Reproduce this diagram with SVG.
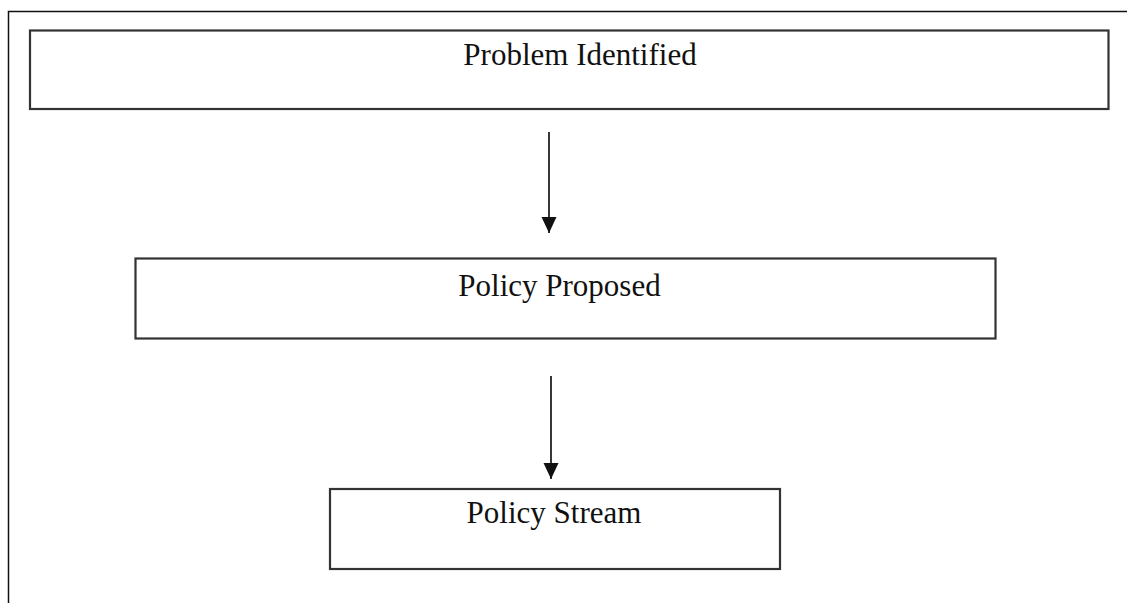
<svg xmlns="http://www.w3.org/2000/svg" width="1127" height="603" viewBox="0 0 1127 603">
<style>
.box{fill:#fff;stroke:#333;stroke-width:2.2}
.lbl{font-family:"Liberation Serif","Times New Roman",serif;font-size:31px;fill:#111;text-anchor:middle}
.conn{stroke:#222;stroke-width:1.8;fill:none}
</style>
<defs>
<marker id="ah" markerUnits="userSpaceOnUse" markerWidth="17" markerHeight="17" refX="16" refY="8" orient="auto" viewBox="0 0 17 17">
<path d="M0,0.5 L16,8 L0,15.5 Z" fill="#111"/>
</marker>
</defs>
<rect x="0" y="0" width="1127" height="603" fill="#fff"/>
<path d="M8.5,603 V11.5 H1127" fill="none" stroke="#111" stroke-width="1.5"/>
<g id="node-problem">
<rect class="box" x="30" y="30.5" width="1078.5" height="78.5"/>
<text class="lbl" x="580" y="65">Problem Identified</text>
</g>
<g id="node-policy-proposed">
<rect class="box" x="135.5" y="258.5" width="860" height="80"/>
<text class="lbl" x="559.5" y="296">Policy Proposed</text>
</g>
<g id="node-policy-stream">
<rect class="box" x="330" y="489" width="450" height="80"/>
<text class="lbl" x="554" y="523">Policy Stream</text>
</g>
<g id="connectors">
<line class="conn" x1="549" y1="132" x2="549" y2="233" marker-end="url(#ah)"/>
<line class="conn" x1="551" y1="376" x2="551" y2="479" marker-end="url(#ah)"/>
</g>
</svg>
